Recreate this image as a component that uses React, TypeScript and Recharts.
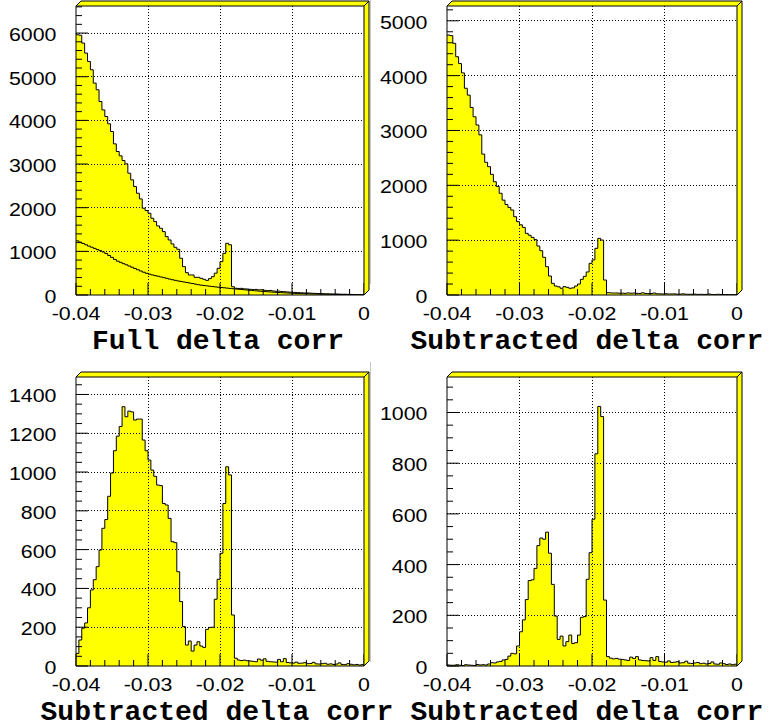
import React from 'react';
import { ComposedChart, Area, Line, XAxis, YAxis, ReferenceLine } from 'recharts';

// 100 bins between -0.04 and 0
const BIN_LOW = -0.04;
const BIN_WIDTH = 0.0004;

// top left: full delta corr, with the background estimate drawn over it
const fullCounts = [
  5962, 5950, 5771, 5541, 5350, 5159, 4854, 4701, 4433, 4240,
  4089, 3921, 3745, 3462, 3287, 3187, 3080, 3004, 2790, 2637,
  2484, 2331, 2201, 1987, 1934, 1873, 1758, 1682, 1582, 1529,
  1452, 1338, 1261, 1170, 1093, 1047, 841, 650, 512, 459,
  459, 405, 405, 382, 359, 335, 375, 420, 500, 611,
  764, 955, 1185, 1150, 190, 155, 150, 152, 140, 138,
  130, 125, 128, 118, 120, 108, 100, 104, 92, 85,
  88, 80, 76, 70, 64, 60, 58, 54, 50, 46,
  47, 42, 38, 36, 34, 33, 28, 27, 25, 22,
  24, 20, 17, 18, 15, 13, 12, 10, 9, 7,
];
const fullBackground = [
  1240, 1210, 1180, 1150, 1120, 1095, 1068, 1040, 1015, 985,
  950, 905, 862, 815, 775, 748, 718, 692, 664, 636,
  606, 578, 550, 522, 498, 478, 460, 444, 430, 414,
  398, 382, 365, 350, 336, 322, 310, 298, 287, 274,
  262, 249, 236, 226, 217, 210, 201, 193, 185, 178,
  172, 165, 158, 151, 144, 137, 132, 126, 120, 113,
  107, 101, 95, 89, 84, 79, 74, 70, 65, 61,
  57, 53, 49, 46, 42, 38, 36, 34, 32, 30,
  28, 26, 24, 22, 21, 19, 18, 16, 15, 14,
  12, 11, 10, 9, 8, 7, 6, 5, 4, 3,
];

// top right
const subtractedCounts = [
  4740, 4730, 4590, 4345, 4220, 4050, 3770, 3645, 3420, 3250,
  3100, 2920, 2570, 2420, 2340, 2200, 2065, 1980, 1855, 1730,
  1650, 1598, 1549, 1428, 1337, 1280, 1233, 1124, 1090, 1051,
  1010, 893, 808, 687, 516, 346, 213, 164, 150, 122,
  152, 140, 122, 130, 164, 200, 286, 340, 420, 577,
  640, 851, 1033, 1002, 273, 43, 38, 36, 37, 33,
  34, 30, 38, 33, 36, 30, 28, 40, 29, 25,
  27, 36, 22, 21, 19, 23, 18, 19, 20, 15,
  16, 21, 14, 13, 14, 16, 11, 13, 10, 12,
  17, 10, 9, 13, 10, 8, 9, 7, 8, 5,
];

// bottom left
const subtractedCutA = [
  65, 134, 195, 222, 300, 392, 445, 512, 598, 710,
  755, 875, 995, 1110, 1185, 1235, 1337, 1285, 1314, 1310,
  1268, 1273, 1273, 1165, 1110, 1062, 1010, 978, 933, 930,
  838, 830, 761, 641, 636, 486, 332, 203, 108, 129,
  77, 108, 125, 103, 96, 189, 199, 200, 344, 447,
  581, 838, 1027, 985, 263, 40, 31, 28, 30, 27,
  26, 24, 22, 36, 30, 37, 24, 22, 21, 20,
  34, 22, 38, 18, 16, 15, 20, 14, 15, 17,
  12, 13, 19, 11, 10, 12, 14, 9, 11, 8,
  10, 16, 8, 7, 12, 9, 6, 8, 5, 7,
];

// bottom right
const subtractedCutB = [
  4, 3, 3, 5, 3, 2, 5, 4, 3, 2,
  6, 4, 5, 4, 8, 13, 12, 16, 18, 24,
  26, 39, 50, 48, 79, 135, 182, 262, 337, 340,
  385, 475, 505, 500, 528, 445, 322, 197, 105, 118,
  79, 96, 122, 89, 92, 122, 192, 195, 342, 447,
  579, 837, 1024, 984, 260, 37, 31, 28, 30, 27,
  26, 24, 22, 35, 30, 37, 24, 22, 21, 20,
  33, 22, 37, 18, 16, 15, 20, 14, 15, 17,
  12, 13, 19, 11, 10, 12, 14, 9, 11, 8,
  10, 16, 8, 7, 12, 9, 6, 8, 5, 7,
];

const xMajorTicks = [-0.04, -0.03, -0.02, -0.01, 0];
const xTickLabels = ['-0.04', '-0.03', '-0.02', '-0.01', '0'];
const fullYTicks = [0, 1000, 2000, 3000, 4000, 5000, 6000];
const subtractedYTicks = [0, 1000, 2000, 3000, 4000, 5000];
const cutAYTicks = [0, 200, 400, 600, 800, 1000, 1200, 1400];
const cutBYTicks = [0, 200, 400, 600, 800, 1000];

const titles = ['Full delta corr', 'Subtracted delta corr', 'Subtracted delta corr', 'Subtracted delta corr'];

const YELLOW = '#ffff00';
const LABEL_FONT = "'Liberation Sans', Arial, Helvetica, sans-serif";
const TITLE_FONT = "'Liberation Mono', 'Courier New', monospace";
const Y_AXIS_W = 60;
const X_AXIS_H = 30;
const MAJOR_LEN = 12;
const MINOR_LEN = 6;
const DEPTH = 5;

const xTicks = Array.from({ length: 21 }, (_, k) => +(-0.04 + k * 0.002).toFixed(3));

function minorTicks(max: number, step: number) {
  const out: number[] = [];
  for (let v = 0; v <= max; v += step) out.push(v);
  return out;
}

function toRows(series: Record<string, number[]>) {
  const keys = Object.keys(series);
  const n = series[keys[0]].length;
  const rows: any[] = [];
  for (let i = 0; i <= n; i++) {
    const row: any = { x: +(BIN_LOW + i * BIN_WIDTH).toFixed(5) };
    keys.forEach((k) => (row[k] = series[k][Math.min(i, n - 1)]));
    rows.push(row);
  }
  return rows;
}

const boxes = [
  { left: 0, top: 0, width: 395, height: 360, margin: { top: 6, right: 31, bottom: 35, left: 16 } },
  { left: 370, top: 0, width: 400, height: 360, margin: { top: 6, right: 33, bottom: 35, left: 17 } },
  { left: 0, top: 360, width: 395, height: 367, margin: { top: 17, right: 31, bottom: 31, left: 16 } },
  { left: 370, top: 360, width: 400, height: 367, margin: { top: 17, right: 33, bottom: 31, left: 17 } },
];
const titleCenters = [218, 587, 217, 587];

function plotRect(b: (typeof boxes)[number]) {
  return {
    L: b.left + b.margin.left + Y_AXIS_W,
    R: b.left + b.width - b.margin.right,
    T: b.top + b.margin.top,
    B: b.top + b.height - b.margin.bottom - X_AXIS_H,
  };
}

function YTick(props: any) {
  const { x, y, payload, majors } = props;
  const isMajor = majors.includes(payload.value);
  return (
    <g>
      <line x1={x} y1={y} x2={x + (isMajor ? MAJOR_LEN : MINOR_LEN)} y2={y} stroke="#000" strokeWidth={1} />
      {isMajor && (
        <text
          transform={`translate(${x - 19.5},${y + 8}) scale(1.2,1)`}
          textAnchor="end"
          fontSize={17.8}
          fontFamily={LABEL_FONT}
          fill="#000"
        >
          {payload.value}
        </text>
      )}
    </g>
  );
}

function XTick(props: any) {
  const { x, y, payload } = props;
  const idx = xMajorTicks.findIndex((m) => Math.abs(m - payload.value) < 1e-9);
  const isMajor = idx >= 0;
  return (
    <g>
      <line x1={x} y1={y} x2={x} y2={y - (isMajor ? MAJOR_LEN : MINOR_LEN)} stroke="#000" strokeWidth={1} />
      {isMajor && (
        <text
          transform={`translate(${x},${y + 24.5}) scale(1.2,1)`}
          textAnchor="middle"
          fontSize={17.8}
          fontFamily={LABEL_FONT}
          fill="#000"
        >
          {xTickLabels[idx]}
        </text>
      )}
    </g>
  );
}

interface PanelProps {
  box: (typeof boxes)[number];
  rows: any[];
  yMax: number;
  yMajors: number[];
  yMinorStep: number;
  withBackground?: boolean;
}

function HistPanel({ box, rows, yMax, yMajors, yMinorStep, withBackground }: PanelProps) {
  return (
    <div style={{ position: 'absolute', left: box.left, top: box.top }}>
      <ComposedChart width={box.width} height={box.height} data={rows} margin={box.margin}>
        <Area
          type="stepAfter"
          dataKey="counts"
          stroke="#000"
          strokeWidth={1}
          fill={YELLOW}
          fillOpacity={1}
          dot={false}
          activeDot={false}
          isAnimationActive={false}
        />
        {withBackground && (
          <Line
            type="stepAfter"
            dataKey="background"
            stroke="#000"
            strokeWidth={1}
            dot={false}
            activeDot={false}
            isAnimationActive={false}
          />
        )}
        {yMajors
          .filter((v) => v > 0)
          .map((v) => (
            <ReferenceLine
              key={'y' + v}
              y={v}
              stroke="#000"
              strokeDasharray="1 2"
              strokeWidth={1}
              shapeRendering="crispEdges"
            />
          ))}
        {xMajorTicks.slice(1, -1).map((v) => (
          <ReferenceLine
            key={'x' + v}
            x={v}
            stroke="#000"
            strokeDasharray="1 2"
            strokeWidth={1}
            shapeRendering="crispEdges"
          />
        ))}
        <XAxis
          dataKey="x"
          type="number"
          domain={[-0.04, 0]}
          ticks={xTicks}
          interval={0}
          height={X_AXIS_H}
          tickSize={0}
          tickMargin={0}
          tickLine={false}
          axisLine={{ stroke: '#000' }}
          tick={(p: any) => <XTick {...p} />}
          allowDataOverflow
        />
        <YAxis
          type="number"
          domain={[0, yMax]}
          ticks={minorTicks(yMax, yMinorStep)}
          interval={0}
          width={Y_AXIS_W}
          tickSize={0}
          tickMargin={0}
          tickLine={false}
          axisLine={{ stroke: '#000' }}
          tick={(p: any) => <YTick {...p} majors={yMajors} />}
          allowDataOverflow
        />
      </ComposedChart>
    </div>
  );
}

function Frames() {
  return (
    <svg
      width={770}
      height={727}
      style={{ position: 'absolute', left: 0, top: 0, pointerEvents: 'none' }}
    >
      <line x1={370.5} y1={0} x2={370.5} y2={284} stroke="#c8c8c8" strokeWidth={1} />
      <line x1={370.5} y1={362} x2={370.5} y2={662} stroke="#c8c8c8" strokeWidth={1} />
      {boxes.map((b, i) => {
        const { L, R, T, B } = plotRect(b);
        return (
          <g key={i}>
            <polygon
              points={`${L},${T} ${L + DEPTH},${T - DEPTH} ${R + DEPTH},${T - DEPTH} ${R},${T}`}
              fill={YELLOW}
              stroke="#000"
              strokeWidth={1}
            />
            <polygon
              points={`${R},${T} ${R + DEPTH},${T - DEPTH} ${R + DEPTH},${B - DEPTH} ${R},${B}`}
              fill={YELLOW}
              stroke="#000"
              strokeWidth={1}
            />
            <text
              x={titleCenters[i]}
              y={B + 53.5}
              textAnchor="middle"
              fontSize={28}
              fontWeight="bold"
              fontFamily={TITLE_FONT}
              fill="#000"
            >
              {titles[i]}
            </text>
          </g>
        );
      })}
    </svg>
  );
}

export default function App() {
  return (
    <div style={{ position: 'absolute', left: 0, top: 0, width: 770, height: 727, background: '#fff' }}>
      <HistPanel
        box={boxes[0]}
        rows={toRows({ counts: fullCounts, background: fullBackground })}
        yMax={6620}
        yMajors={fullYTicks}
        yMinorStep={200}
        withBackground
      />
      <HistPanel
        box={boxes[1]}
        rows={toRows({ counts: subtractedCounts })}
        yMax={5270}
        yMajors={subtractedYTicks}
        yMinorStep={200}
      />
      <HistPanel
        box={boxes[2]}
        rows={toRows({ counts: subtractedCutA })}
        yMax={1490}
        yMajors={cutAYTicks}
        yMinorStep={50}
      />
      <HistPanel
        box={boxes[3]}
        rows={toRows({ counts: subtractedCutB })}
        yMax={1140}
        yMajors={cutBYTicks}
        yMinorStep={50}
      />
      <Frames />
    </div>
  );
}
